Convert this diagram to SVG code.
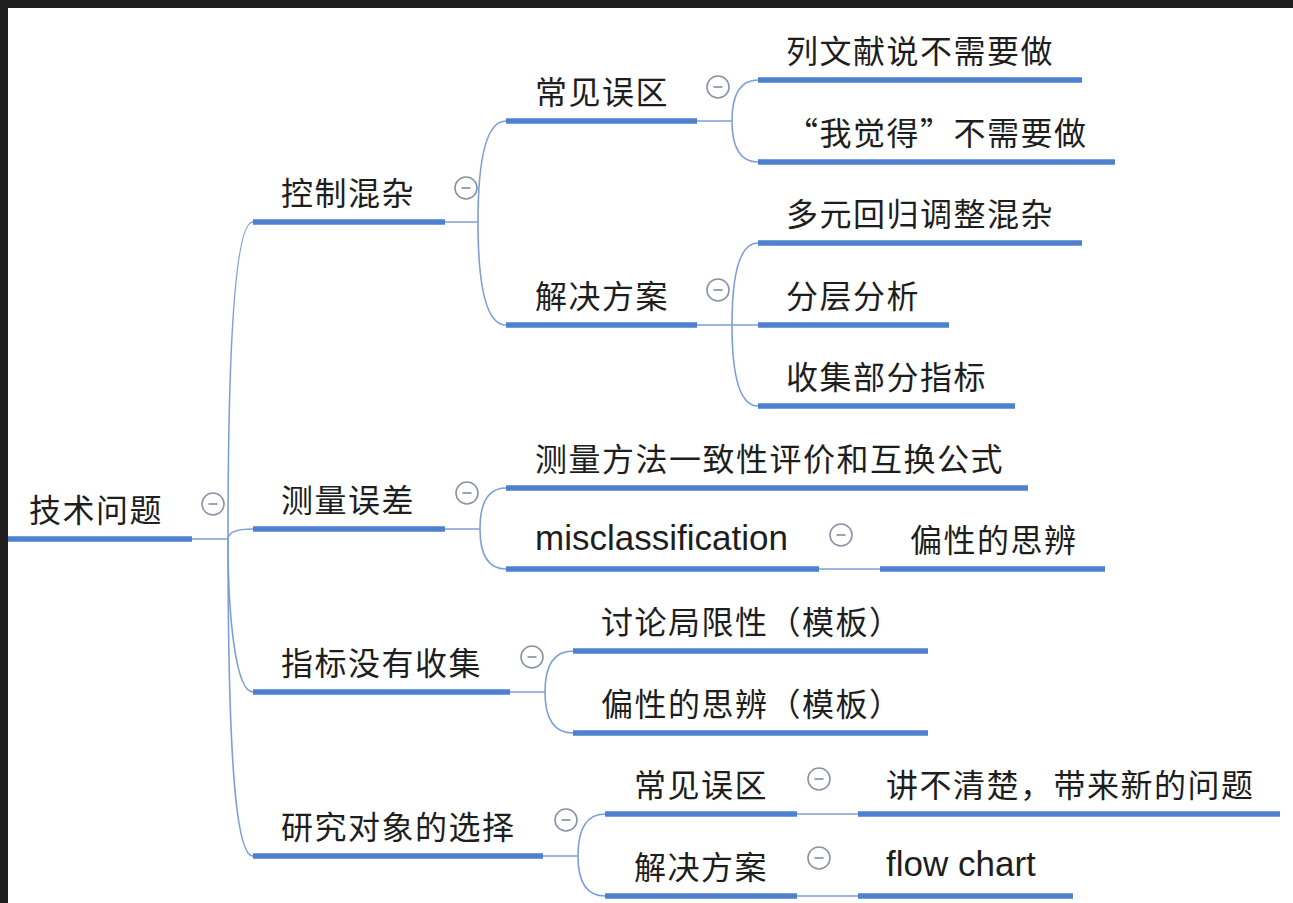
<svg xmlns="http://www.w3.org/2000/svg" width="1293" height="903" viewBox="0 0 1293 903">
<style>
.u{stroke:#4e80cf;stroke-width:5.5;stroke-linecap:butt}
.c{fill:none;stroke:#7d9fd8;stroke-width:1.6}
.t{font-family:"Noto Sans CJK SC","Liberation Sans",sans-serif;font-size:32px;letter-spacing:1.5px;fill:#1e1e1e}
.l{font-family:"Liberation Sans","Noto Sans CJK SC",sans-serif;font-size:35px;fill:#1e1e1e}
.k circle{fill:#fff;stroke:#8a93a6;stroke-width:1.6}
.k line{stroke:#9ca3b0;stroke-width:2}
</style>
<defs>
<g id="knob" class="k"><circle r="11"/><line x1="-4.5" y1="0" x2="4.5" y2="0"/></g>
</defs>
<rect x="0" y="0" width="1293" height="903" fill="#fff"/>
<rect x="0" y="0" width="1293" height="8" fill="#1e1e1e"/>
<rect x="0" y="0" width="8" height="903" fill="#1e1e1e"/>

<g id="connectors">
<path class="c" d="M192,539 H228"/>
<path class="c" d="M228,539 C228,330 236,222 253,222"/>
<path class="c" d="M228,539 Q228,529 253,529"/>
<path class="c" d="M228,539 C228,620 236,692 253,692"/>
<path class="c" d="M228,539 C228,760 236,856 253,856"/>
<path class="c" d="M445,222 H478"/>
<path class="c" d="M478,222 Q478,121 506,121"/>
<path class="c" d="M478,222 Q478,325 506,325"/>
<path class="c" d="M697,121 H732"/>
<path class="c" d="M732,121 Q732,80 758,80"/>
<path class="c" d="M732,121 Q732,162 758,162"/>
<path class="c" d="M697,325 H758"/>
<path class="c" d="M732,325 Q732,243 758,243"/>
<path class="c" d="M732,325 Q732,406 758,406"/>
<path class="c" d="M445,529 H480"/>
<path class="c" d="M480,529 Q480,488 506,488"/>
<path class="c" d="M480,529 Q480,569 506,569"/>
<path class="c" d="M819,569 H880"/>
<path class="c" d="M510,692 H545"/>
<path class="c" d="M545,692 Q545,651 573,651"/>
<path class="c" d="M545,692 Q545,733 573,733"/>
<path class="c" d="M543,856 H578"/>
<path class="c" d="M578,856 Q578,814 605,814"/>
<path class="c" d="M578,856 Q578,896 605,896"/>
<path class="c" d="M797,814 H858"/>
<path class="c" d="M797,896 H858"/>
</g>

<g id="root">
<line class="u" x1="8" y1="539" x2="192" y2="539"/>
<text class="t" x="29" y="522">技术问题</text>
<use href="#knob" x="213" y="504"/>
</g>

<g id="n-kongzhi">
<line class="u" x1="253" y1="222" x2="445" y2="222"/>
<text class="t" x="281" y="205">控制混杂</text>
<use href="#knob" x="466" y="188"/>
</g>
<g id="n-kongzhi-wuqu">
<line class="u" x1="506" y1="121" x2="697" y2="121"/>
<text class="t" x="535" y="104">常见误区</text>
<use href="#knob" x="718" y="87"/>
</g>
<g id="n-liewenxian">
<line class="u" x1="758" y1="80" x2="1082" y2="80"/>
<text class="t" x="786" y="63">列文献说不需要做</text>
</g>
<g id="n-wojuede">
<line class="u" x1="758" y1="162" x2="1115" y2="162"/>
<text class="t" x="786" y="145">“我觉得”不需要做</text>
</g>
<g id="n-kongzhi-fangan">
<line class="u" x1="506" y1="325" x2="697" y2="325"/>
<text class="t" x="535" y="308">解决方案</text>
<use href="#knob" x="718" y="290"/>
</g>
<g id="n-duoyuan">
<line class="u" x1="758" y1="243" x2="1082" y2="243"/>
<text class="t" x="786" y="226">多元回归调整混杂</text>
</g>
<g id="n-fenceng">
<line class="u" x1="758" y1="325" x2="949" y2="325"/>
<text class="t" x="786" y="308">分层分析</text>
</g>
<g id="n-shouji">
<line class="u" x1="758" y1="406" x2="1015" y2="406"/>
<text class="t" x="786" y="389">收集部分指标</text>
</g>

<g id="n-celiang">
<line class="u" x1="253" y1="529" x2="445" y2="529"/>
<text class="t" x="281" y="512">测量误差</text>
<use href="#knob" x="467" y="493"/>
</g>
<g id="n-fangfa">
<line class="u" x1="506" y1="488" x2="1028" y2="488"/>
<text class="t" x="535" y="471">测量方法一致性评价和互换公式</text>
</g>
<g id="n-miscl">
<line class="u" x1="506" y1="569" x2="819" y2="569"/>
<text class="l" x="535" y="550">misclassification</text>
<use href="#knob" x="841" y="535"/>
</g>
<g id="n-pianxing1">
<line class="u" x1="880" y1="569" x2="1105" y2="569"/>
<text class="t" x="910" y="552">偏性的思辨</text>
</g>

<g id="n-zhibiao">
<line class="u" x1="253" y1="692" x2="510" y2="692"/>
<text class="t" x="281" y="675">指标没有收集</text>
<use href="#knob" x="532" y="657"/>
</g>
<g id="n-taolun">
<line class="u" x1="573" y1="651" x2="928" y2="651"/>
<text class="t" x="601" y="634">讨论局限性（模板）</text>
</g>
<g id="n-pianxing2">
<line class="u" x1="573" y1="733" x2="928" y2="733"/>
<text class="t" x="601" y="716">偏性的思辨（模板）</text>
</g>

<g id="n-yanjiu">
<line class="u" x1="253" y1="856" x2="543" y2="856"/>
<text class="t" x="281" y="839">研究对象的选择</text>
<use href="#knob" x="566" y="820"/>
</g>
<g id="n-yanjiu-wuqu">
<line class="u" x1="605" y1="814" x2="797" y2="814"/>
<text class="t" x="634" y="797">常见误区</text>
<use href="#knob" x="819" y="779"/>
</g>
<g id="n-jiangbuqing">
<line class="u" x1="858" y1="814" x2="1280" y2="814"/>
<text class="t" x="886" y="797">讲不清楚，带来新的问题</text>
</g>
<g id="n-yanjiu-fangan">
<line class="u" x1="605" y1="896" x2="797" y2="896"/>
<text class="t" x="634" y="879">解决方案</text>
<use href="#knob" x="819" y="858"/>
</g>
<g id="n-flowchart">
<line class="u" x1="858" y1="896" x2="1073" y2="896"/>
<text class="l" x="886" y="876">flow chart</text>
</g>
</svg>
